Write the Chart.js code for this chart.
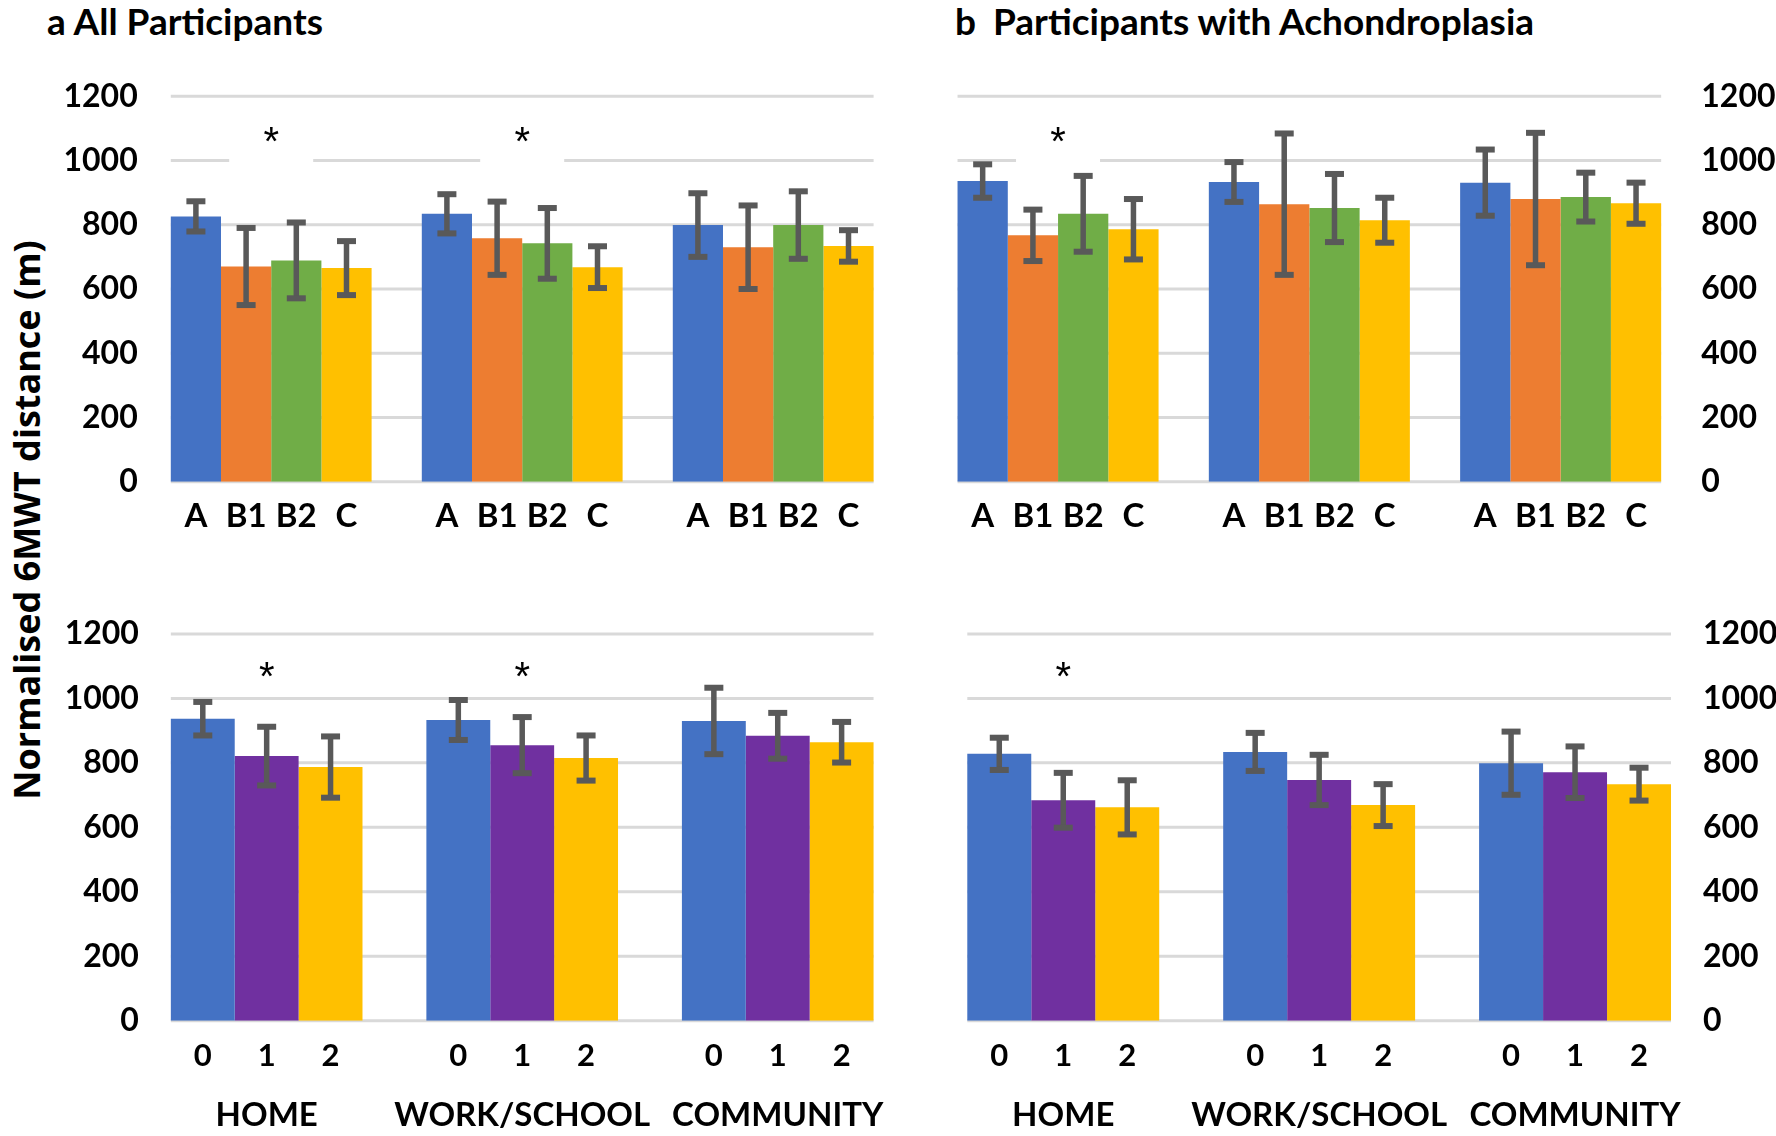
<!DOCTYPE html>
<html>
<head>
<meta charset="utf-8">
<script src="https://cdn.jsdelivr.net/npm/chart.js@4.4.1/dist/chart.umd.min.js"></script>
<style>
  html, body { margin: 0; padding: 0; background: #fff; }
  body { width: 1776px; height: 1136px; position: relative; overflow: hidden; font-family: Lato, sans-serif; }
  canvas { position: absolute; }
  .title { position: absolute; font-weight: 700; font-size: 37px; line-height: 37px; color: #000; white-space: nowrap; }
  #ytitle {
    position: absolute; left: 27px; top: 520px; width: 700px; height: 50px;
    margin-left: -350px; margin-top: -25px; transform: rotate(-90deg);
    text-align: center; line-height: 50px; white-space: nowrap;
    font-family: "Open Sans", sans-serif; font-weight: 700; font-size: 36px; color: #000;
  }
</style>
</head>
<body>
<div class="title" style="left:47px;top:2px">a All Participants</div>
<div class="title" style="left:955px;top:2px">b<span style="margin-left:17px">Participants with Achondroplasia</span></div>
<div id="ytitle">Normalised 6MWT distance (m)</div>

<canvas id="tl" width="910" height="560" style="left:0;top:0;width:910px;height:560px"></canvas>
<canvas id="tr" width="876" height="560" style="left:900px;top:0;width:876px;height:560px"></canvas>
<canvas id="bl" width="910" height="576" style="left:0;top:560px;width:910px;height:576px"></canvas>
<canvas id="br" width="876" height="576" style="left:900px;top:560px;width:876px;height:576px"></canvas>

<script>
// settings (x categories) and bar labels
const groups = ['HOME', 'WORK/SCHOOL', 'COMMUNITY'];
const phaseLabels = ['A', 'B1', 'B2', 'C'];
const scoreLabels = ['0', '1', '2'];
const yMax = 1200;
const yStep = 200;

// a, top: all participants by phase (mean, sd), one row per phase
const allPhaseMean = [[826, 834, 799], [670, 758, 730], [689, 742, 799], [665, 668, 734]];
const allPhaseSd   = [[47, 61, 99], [120, 114, 130], [118, 110, 105], [84, 65, 49]];
// b, top: achondroplasia by phase
const achPhaseMean = [[936, 933, 931], [767, 864, 880], [834, 852, 886], [786, 814, 867]];
const achPhaseSd   = [[52, 62, 103], [80, 220, 206], [118, 106, 76], [94, 70, 64]];
// a, bottom: all participants by score 0/1/2
const allScoreMean = [[937, 933, 930], [821, 855, 884], [787, 815, 864]];
const allScoreSd   = [[52, 62, 103], [91, 87, 71], [95, 70, 63]];
// b, bottom: achondroplasia by score
const achScoreMean = [[828, 834, 799], [684, 747, 771], [662, 669, 734]];
const achScoreSd   = [[50, 59, 98], [85, 78, 80], [84, 65, 51]];

// significant differences (category index)
const allPhaseStars = [0, 1];
const achPhaseStars = [0];
const allScoreStars = [0, 1];
const achScoreStars = [0];

const phaseColors = ['#4472C4', '#ED7D31', '#70AD47', '#FFC000'];
const scoreColors = ['#4472C4', '#7030A0', '#FFC000'];

function capText(ctx, txt, x, cy){
  const h = ctx.measureText('H').actualBoundingBoxAscent;
  ctx.fillText(txt, x, cy + h / 2);
}

function makePanel(id, labels, means, sds, colors, stars, o){
  const canvas = document.getElementById(id);
  const W = canvas.width, H = canvas.height;
  const axisW = o.axis === 'left' ? o.left : W - o.right;
  const padding = o.axis === 'left'
    ? { left: 0, right: W - o.right, top: o.top, bottom: H - o.bottom }
    : { left: o.left, right: 0, top: o.top, bottom: H - o.bottom };

  const panel = {
    id: 'panel',
    beforeDatasetsDraw(chart){
      const ctx = chart.ctx, ys = chart.scales.y;
      const first = chart.getDatasetMeta(0).data[0];
      const lm = chart.getDatasetMeta(chart.data.datasets.length - 1);
      const last = lm.data[lm.data.length - 1];
      const x0 = first.x - first.width / 2, x1 = last.x + last.width / 2;
      ctx.save();
      ctx.strokeStyle = '#d9d9d9';
      ctx.lineWidth = 3;
      ys.ticks.forEach(t => {
        const y = ys.getPixelForValue(t.value);
        ctx.beginPath(); ctx.moveTo(x0, y); ctx.lineTo(x1, y); ctx.stroke();
      });
      ctx.restore();
    },
    afterDatasetsDraw(chart){
      const ctx = chart.ctx, ys = chart.scales.y, xs = chart.scales.x;
      const area = chart.chartArea;
      ctx.save();
      // error bars
      ctx.fillStyle = '#595959';
      chart.data.datasets.forEach((ds, i) => {
        chart.getDatasetMeta(i).data.forEach((bar, j) => {
          const m = ds.data[j], e = sds[i][j];
          const yt = ys.getPixelForValue(m + e), yb = ys.getPixelForValue(m - e);
          ctx.fillRect(bar.x - 2.75, yt, 5.5, yb - yt);
          ctx.fillRect(bar.x - 9.5, yt - 3, 19, 6);
          ctx.fillRect(bar.x - 9.5, yb - 3, 19, 6);
        });
      });
      // significance stars
      stars.forEach(k => {
        const x = xs.getPixelForValue(k), y = ys.getPixelForValue(o.starAt);
        if (o.starMask){
          ctx.fillStyle = '#fff';
          ctx.fillRect(x - 42, y - 22, 84, 50);
        }
        ctx.fillStyle = '#000';
        ctx.font = '40px "Liberation Sans"';
        ctx.textAlign = 'center';
        ctx.textBaseline = 'alphabetic';
        const mt = ctx.measureText('*');
        ctx.fillText('*', x, y + (mt.actualBoundingBoxAscent - mt.actualBoundingBoxDescent) / 2);
      });
      // per-bar labels
      ctx.fillStyle = '#000';
      ctx.textAlign = 'center';
      ctx.textBaseline = 'alphabetic';
      ctx.font = 'bold ' + o.subSize + 'px Lato';
      chart.data.datasets.forEach((ds, i) => {
        chart.getDatasetMeta(i).data.forEach(bar => {
          capText(ctx, ds.label, bar.x, area.bottom + o.subOffset);
        });
      });
      // setting labels
      if (o.groupOffset){
        ctx.font = 'bold 33px Lato';
        chart.data.labels.forEach((g, k) => {
          capText(ctx, g, xs.getPixelForValue(k), area.bottom + o.groupOffset);
        });
      }
      ctx.restore();
    }
  };

  return new Chart(canvas, {
    type: 'bar',
    data: {
      labels: groups,
      datasets: labels.map((lab, i) => ({
        label: lab,
        data: means[i],
        backgroundColor: colors[i],
        borderWidth: 0,
        barPercentage: 1,
        categoryPercentage: o.catPct
      }))
    },
    options: {
      responsive: false,
      animation: false,
      layout: { padding },
      plugins: { legend: { display: false }, tooltip: { enabled: false } },
      scales: {
        x: { display: false },
        y: {
          position: o.axis,
          min: 0, max: yMax,
          ticks: {
            stepSize: yStep, padding: o.tickPad, color: '#000',
            font: { family: 'Lato', weight: 'bold', size: 32 },
            callback: v => String(v)
          },
          grid: { display: false, drawTicks: false },
          border: { display: false },
          afterFit: s => { s.width = axisW; }
        }
      }
    },
    plugins: [panel]
  });
}

makePanel('tl', phaseLabels, allPhaseMean, allPhaseSd, phaseColors, allPhaseStars,
  { axis: 'left', left: 145.7, right: 898.7, top: 96.2, bottom: 481.8, tickPad: 8, catPct: 0.8,
    starAt: 1080, starMask: true, subSize: 33, subOffset: 33 });
makePanel('tr', phaseLabels, achPhaseMean, achPhaseSd, phaseColors, achPhaseStars,
  { axis: 'right', left: 32.4, right: 786.3, top: 96.2, bottom: 481.8, tickPad: 15, catPct: 0.8,
    starAt: 1080, starMask: true, subSize: 33, subOffset: 33 });
makePanel('bl', scoreLabels, allScoreMean, allScoreSd, scoreColors, allScoreStars,
  { axis: 'left', left: 138.9, right: 905.5, top: 73.9, bottom: 460.8, tickPad: 0, catPct: 0.75,
    starAt: 1090, starMask: false, subSize: 31, subOffset: 34, groupOffset: 93 });
makePanel('br', scoreLabels, achScoreMean, achScoreSd, scoreColors, achScoreStars,
  { axis: 'right', left: 35.3, right: 803, top: 73.9, bottom: 460.8, tickPad: 0, catPct: 0.75,
    starAt: 1090, starMask: false, subSize: 31, subOffset: 34, groupOffset: 93 });
</script>
</body>
</html>
